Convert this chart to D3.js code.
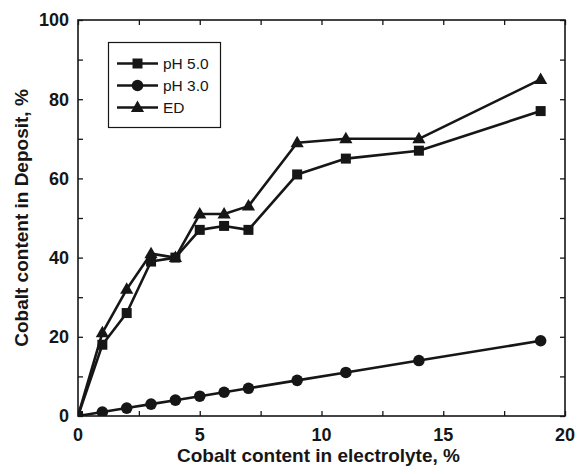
<!DOCTYPE html>
<html>
<head>
<meta charset="utf-8">
<script src="https://cdn.jsdelivr.net/npm/d3@7/dist/d3.min.js"></script>
<style>
  html, body { margin: 0; padding: 0; background: #fff; }
  svg { display: block; font-family: "Liberation Sans", Arial, Helvetica, sans-serif; }
</style>
</head>
<body>
<svg id="chart" width="577" height="474"></svg>
<script>
// Cobalt content in electrolyte (%)
const electrolyte = [0, 1, 2, 3, 4, 5, 6, 7, 9, 11, 14, 19];
// Cobalt content in deposit (%) for each bath
const ph50 = [0, 18, 26, 39, 40, 47, 48, 47, 61, 65, 67, 77];
const ph30 = [0, 1, 2, 3, 4, 5, 6, 7, 9, 11, 14, 19];
const ed   = [0, 21, 32, 41, 40, 51, 51, 53, 69, 70, 70, 85];

const seriesNames = ["pH 5.0", "pH 3.0", "ED"];
const seriesSymbols = ["square", "circle", "triangle"];

const xTickLabels = [0, 5, 10, 15, 20];
const yTickLabels = [0, 20, 40, 60, 80, 100];

const series = [
  { name: seriesNames[0], symbol: seriesSymbols[0], values: ph50 },
  { name: seriesNames[1], symbol: seriesSymbols[1], values: ph30 },
  { name: seriesNames[2], symbol: seriesSymbols[2], values: ed }
];

const ink = "#161616";
const margin = { left: 78, top: 20, right: 12, bottom: 58 };
const W = 577, H = 474;
const pw = W - margin.left - margin.right;
const ph = H - margin.top - margin.bottom;

const svg = d3.select("#chart");
const g = svg.append("g").attr("transform", `translate(${margin.left},${margin.top})`);

const x = d3.scaleLinear().domain([0, 20]).range([0, pw]);
const y = d3.scaleLinear().domain([0, 100]).range([ph, 0]);

svg.append("defs").append("clipPath").attr("id", "plotClip")
  .append("rect").attr("x", 0).attr("y", 0).attr("width", pw).attr("height", ph);

// Marker shapes
function drawMarker(sel, symbol, cx, cy) {
  if (symbol === "square") {
    sel.append("rect").attr("x", cx - 5).attr("y", cy - 5)
      .attr("width", 10).attr("height", 10).attr("fill", ink);
  } else if (symbol === "circle") {
    sel.append("circle").attr("cx", cx).attr("cy", cy).attr("r", 5.8).attr("fill", ink);
  } else {
    sel.append("path")
      .attr("d", `M${cx},${cy - 7}L${cx + 6.6},${cy + 4.5}L${cx - 6.6},${cy + 4.5}Z`)
      .attr("fill", ink);
  }
}

// Axes: inward ticks on all four sides
const tickLen = 5;
const xTicks = d3.range(0, 20.01, 2.5);
const yTicks = d3.range(0, 100.01, 10);

const axB = d3.axisBottom(x).tickValues(xTicks).tickSize(-tickLen).tickFormat("");
const axT = d3.axisTop(x).tickValues(xTicks).tickSize(-tickLen).tickFormat("");
const axL = d3.axisLeft(y).tickValues(yTicks).tickSize(-tickLen).tickFormat("");
const axR = d3.axisRight(y).tickValues(yTicks).tickSize(-tickLen).tickFormat("");

function styleAxis(sel) {
  sel.select(".domain").remove();
  sel.selectAll(".tick line").attr("stroke", ink).attr("stroke-width", 1.3);
}
g.append("g").attr("transform", `translate(0,${ph})`).call(axB).call(styleAxis);
g.append("g").call(axT).call(styleAxis);
g.append("g").call(axL).call(styleAxis);
g.append("g").attr("transform", `translate(${pw},0)`).call(axR).call(styleAxis);

// Tick labels
g.append("g").selectAll("text").data(xTickLabels).join("text")
  .attr("x", d => x(d)).attr("y", ph + 25)
  .attr("text-anchor", "middle")
  .attr("font-size", 18).attr("font-weight", "bold").attr("fill", ink)
  .text(d => d);

g.append("g").selectAll("text").data(yTickLabels).join("text")
  .attr("x", -9).attr("y", d => y(d)).attr("dy", "0.36em")
  .attr("text-anchor", "end")
  .attr("font-size", 18).attr("font-weight", "bold").attr("fill", ink)
  .text(d => d);

// Axis titles
svg.append("text")
  .attr("x", margin.left + pw / 2 - 3).attr("y", 462)
  .attr("text-anchor", "middle")
  .attr("font-size", 19).attr("font-weight", "bold").attr("fill", ink)
  .text("Cobalt content in electrolyte, %");

svg.append("text")
  .attr("transform", `translate(27.5,${margin.top + ph / 2}) rotate(-90)`)
  .attr("text-anchor", "middle")
  .attr("font-size", 19).attr("font-weight", "bold").attr("fill", ink)
  .text("Cobalt content in Deposit, %");

// Data lines and markers
const plot = g.append("g").attr("clip-path", "url(#plotClip)");
const line = d3.line().x((d, i) => x(electrolyte[i])).y(d => y(d));

series.forEach(s => {
  plot.append("path").datum(s.values)
    .attr("d", line)
    .attr("fill", "none").attr("stroke", ink)
    .attr("stroke-width", 2.6).attr("stroke-linejoin", "round");
});
series.forEach(s => {
  const mg = plot.append("g");
  s.values.forEach((v, i) => drawMarker(mg, s.symbol, x(electrolyte[i]), y(v)));
});

// Plot frame
g.append("rect").attr("x", 0).attr("y", 0).attr("width", pw).attr("height", ph)
  .attr("fill", "none").attr("stroke", ink).attr("stroke-width", 1.6);

// Legend
const legend = svg.append("g");
legend.append("rect").attr("x", 108.5).attr("y", 42.5).attr("width", 112).attr("height", 85)
  .attr("fill", "#fff").attr("stroke", ink).attr("stroke-width", 1.2);
series.forEach((s, i) => {
  const ly = 63.5 + i * 22;
  legend.append("line").attr("x1", 117).attr("x2", 158).attr("y1", ly).attr("y2", ly)
    .attr("stroke", ink).attr("stroke-width", 2.6);
  drawMarker(legend, s.symbol, 137.5, ly);
  legend.append("text").attr("x", 163).attr("y", ly).attr("dy", "0.36em")
    .attr("font-size", 15.5).attr("fill", ink)
    .text(s.name);
});
</script>
</body>
</html>
